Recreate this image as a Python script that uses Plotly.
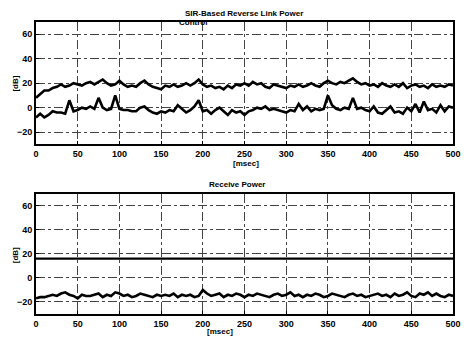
import plotly.graph_objects as go

t_ms = list(range(0, 505, 5))

control_upper = [
    8, 11, 14, 14, 16, 17, 19, 17, 18, 20,
    19, 18, 20, 21, 19, 21, 23, 20, 18, 19,
    22, 19, 17, 18, 17, 20, 22, 19, 17, 16,
    15, 18, 17, 19, 17, 18, 20, 18, 20, 23,
    19, 17, 18, 16, 17, 15, 18, 16, 19, 18,
    20, 18, 21, 19, 20, 17, 16, 19, 18, 17,
    16, 18, 17, 19, 17, 18, 20, 18, 17, 20,
    22, 20, 19, 21, 20, 22, 24, 21, 19, 20,
    18, 19, 17, 20, 18, 17, 19, 17, 20, 16,
    18, 19, 17, 18, 16, 19, 17, 18, 17, 19,
    18]

control_lower = [
    -8, -5, -8, -6, -3, -4, -4, -5, 6, -3,
    -2, 0, -1, 1, -1, 8, 0, -2, -1, 10,
    -1, -2, -2, -3, -3, 0, 1, -2, -4, -5,
    -3, -4, -2, -3, 2, -1, -4, -2, 1, 6,
    -3, -2, -5, -2, 0, -3, -6, -2, -4, -3,
    -6, -3, -2, 0, -1, 1, -2, -1, -2, -3,
    -4, -2, -3, 3, -2, 1, -3, -1, -2, -1,
    10, 2, -1, -2, 0, -1, 8, -1, 0, -2,
    -3, 1, -4, -5, -2, 1, -4, -3, -5, 0,
    -3, 3, -4, 5, -2, -1, -4, 2, -3, 1,
    0]

receive_level = [16] * 101

receive_power = [
    -17, -16, -16, -15, -14, -15, -13, -12, -14, -15,
    -17, -14, -15, -15, -14, -13, -16, -14, -15, -12,
    -13, -15, -14, -16, -15, -13, -14, -15, -16, -14,
    -15, -14, -15, -13, -16, -14, -15, -14, -16, -15,
    -10, -13, -15, -14, -13, -16, -14, -15, -13, -14,
    -16, -14, -15, -13, -14, -15, -16, -14, -13, -15,
    -14, -12, -15, -14, -16, -14, -15, -13, -14, -16,
    -15, -13, -14, -15, -16, -14, -13, -15, -14, -16,
    -15, -14, -13, -15, -14, -16, -13, -15, -14, -12,
    -15, -16, -13, -14, -12, -15, -13, -15, -16, -14,
    -15]

x_ticks = [0, 50, 100, 150, 200, 250, 300, 350, 400, 450, 500]
y_ticks = [-20, 0, 20, 40, 60]

line_style = dict(color="black", width=2.6)

fig = go.Figure()
fig.add_trace(go.Scatter(x=t_ms, y=control_upper, mode="lines", line=line_style, xaxis="x", yaxis="y"))
fig.add_trace(go.Scatter(x=t_ms, y=control_lower, mode="lines", line=line_style, xaxis="x", yaxis="y"))
fig.add_trace(go.Scatter(x=t_ms, y=receive_level, mode="lines", line=dict(color="black", width=2.2), xaxis="x2", yaxis="y2"))
fig.add_trace(go.Scatter(x=t_ms, y=receive_power, mode="lines", line=line_style, xaxis="x2", yaxis="y2"))

tickfont = dict(family="Liberation Sans", size=9, color="black", weight="bold")
common_x = dict(range=[0, 500], tickvals=x_ticks, showline=True, mirror=True, linecolor="black",
                linewidth=2, showgrid=True, gridcolor="#444", griddash="dashdot", gridwidth=1,
                zeroline=False, tickfont=tickfont, ticks="inside", ticklen=3, tickcolor="black")
common_y = dict(range=[-30, 70], tickvals=y_ticks, showline=True, mirror=True, linecolor="black",
                linewidth=2, showgrid=True, gridcolor="#444", griddash="dashdot", gridwidth=1,
                zeroline=False, tickfont=tickfont, ticks="inside", ticklen=3, tickcolor="black")

BOT = 318
H = 296
fig.update_layout(
    width=472, height=340,
    margin=dict(l=36, r=11, t=22, b=22),
    paper_bgcolor="white", plot_bgcolor="white",
    showlegend=False,
    xaxis=dict(domain=[0, 1], anchor="y", **common_x),
    yaxis=dict(domain=[(BOT - 146) / H, 1], anchor="x", **common_y),
    xaxis2=dict(domain=[0, 1], anchor="y2", **common_x),
    yaxis2=dict(domain=[0, (BOT - 196) / H], anchor="x2", **common_y),
)

lab = dict(family="Liberation Sans", size=8, color="black", weight="bold")
ann = [
    dict(text="SIR-Based Reverse Link Power", x=248, y=13),
    dict(text="Control", x=196, y=23),
    dict(text="[msec]", x=250, y=165),
    dict(text="Receive Power", x=241, y=187),
    dict(text="[msec]", x=224, y=336),
]
for a in ann:
    fig.add_annotation(text=a["text"], xref="paper", yref="paper",
                       x=(a["x"] - 36) / 425, y=(BOT - a["y"]) / H,
                       showarrow=False, font=lab, xanchor="center", yanchor="middle",
                       borderpad=0)
for yy in [84, 258]:
    fig.add_annotation(text="[dB]", xref="paper", yref="paper",
                       x=(15 - 36) / 425, y=(BOT - yy) / H, textangle=-90,
                       showarrow=False, font=lab, xanchor="center", yanchor="middle")

fig.write_html("out.html")
